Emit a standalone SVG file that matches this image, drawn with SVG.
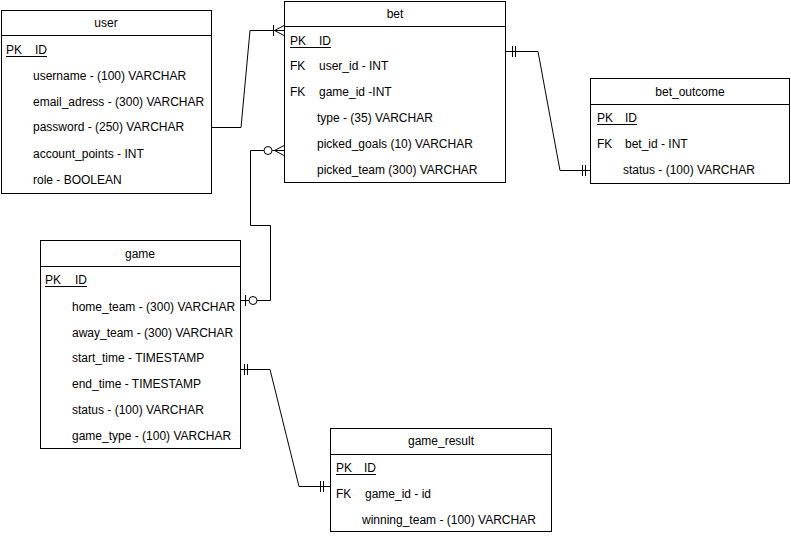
<svg xmlns="http://www.w3.org/2000/svg" width="791" height="536" viewBox="0 0 791 536">
  <style>
    .box { fill: #ffffff; stroke: #000000; stroke-width: 1; }
    .sep { stroke: #000000; stroke-width: 1; }
    .t { font-family: "Liberation Sans", Arial, Helvetica, sans-serif; font-size: 12px; fill: #000000; }
    .title { text-anchor: middle; }
    .ul { stroke: #000000; stroke-width: 1; }
    .edge { fill: none; stroke: #000000; stroke-width: 1; }
    .ring { fill: #ffffff; stroke: #000000; stroke-width: 1; }
  </style>
  <rect width="791" height="536" fill="#ffffff"/>

  <!-- relationships -->
  <g id="connectors">
    <!-- user 1..N bet -->
    <path class="edge" d="M211 127.5 H241 L250 30.5 H284"/>
    <path class="edge" d="M273.5 25 V36 M274.5 30.5 L284 25.5 M274.5 30.5 L284 35.5"/>

    <!-- game 0..1 to 0..N bet -->
    <path class="edge" d="M241 300.5 H270.5 V225.5 H250.5 V150.5 H284"/>
    <path class="edge" d="M245.5 295 V306"/>
    <circle class="ring" cx="253" cy="300.5" r="4"/>
    <circle class="ring" cx="268" cy="150.5" r="4"/>
    <path class="edge" d="M274.5 150.5 L284 145.5 M274.5 150.5 L284 155.5"/>

    <!-- bet 1..1 bet_outcome -->
    <path class="edge" d="M505 51.5 H538 L560 170.5 H590"/>
    <path class="edge" d="M512.5 46 V57 M515.5 46 V57"/>
    <path class="edge" d="M582.5 165 V176 M585.5 165 V176"/>

    <!-- game 1..1 game_result -->
    <path class="edge" d="M241 369.5 H270 L299 486.5 H330"/>
    <path class="edge" d="M244.5 364 V375 M247.5 364 V375"/>
    <path class="edge" d="M320.5 481 V492 M323.5 481 V492"/>
  </g>

  <!-- user table -->
  <g id="user">
    <rect class="box" x="1.5" y="10.5" width="210" height="183"/>
    <line class="sep" x1="1.5" y1="35.5" x2="211.5" y2="35.5"/>
    <text class="t title" x="106" y="27">user</text>
    <text class="t" x="6" y="54">PK</text>
    <text class="t" x="35" y="54">ID</text>
    <line class="ul" x1="6" y1="56.5" x2="47" y2="56.5"/>
    <text class="t" x="33" y="80">username - (100) VARCHAR</text>
    <text class="t" x="33" y="106">email_adress - (300) VARCHAR</text>
    <text class="t" x="33" y="131">password - (250) VARCHAR</text>
    <text class="t" x="33" y="158">account_points - INT</text>
    <text class="t" x="33" y="184">role - BOOLEAN</text>
  </g>

  <!-- bet table -->
  <g id="bet">
    <rect class="box" x="284.5" y="1.5" width="221" height="181"/>
    <line class="sep" x1="284.5" y1="26.5" x2="505.5" y2="26.5"/>
    <text class="t title" x="395" y="18">bet</text>
    <text class="t" x="290" y="45">PK</text>
    <text class="t" x="319" y="45">ID</text>
    <line class="ul" x1="290" y1="47.5" x2="331" y2="47.5"/>
    <text class="t" x="290" y="70">FK</text>
    <text class="t" x="319" y="70">user_id - INT</text>
    <text class="t" x="290" y="96">FK</text>
    <text class="t" x="319" y="96">game_id -INT</text>
    <text class="t" x="317" y="122">type - (35) VARCHAR</text>
    <text class="t" x="317" y="148">picked_goals (10) VARCHAR</text>
    <text class="t" x="317" y="174">picked_team (300) VARCHAR</text>
  </g>

  <!-- bet_outcome table -->
  <g id="bet_outcome">
    <rect class="box" x="590.5" y="78.5" width="199" height="105"/>
    <line class="sep" x1="590.5" y1="104.5" x2="789.5" y2="104.5"/>
    <text class="t title" x="690" y="96">bet_outcome</text>
    <text class="t" x="597" y="122">PK</text>
    <text class="t" x="625" y="122">ID</text>
    <line class="ul" x1="597" y1="124.5" x2="637" y2="124.5"/>
    <text class="t" x="597" y="148">FK</text>
    <text class="t" x="625" y="148">bet_id - INT</text>
    <text class="t" x="623" y="174">status - (100) VARCHAR</text>
  </g>

  <!-- game table -->
  <g id="game">
    <rect class="box" x="40.5" y="240.5" width="200" height="208"/>
    <line class="sep" x1="40.5" y1="266.5" x2="240.5" y2="266.5"/>
    <text class="t title" x="140" y="258">game</text>
    <text class="t" x="45" y="284">PK</text>
    <text class="t" x="75" y="284">ID</text>
    <line class="ul" x1="45" y1="286.5" x2="87" y2="286.5"/>
    <text class="t" x="72" y="311">home_team - (300) VARCHAR</text>
    <text class="t" x="72" y="337">away_team - (300) VARCHAR</text>
    <text class="t" x="72" y="362">start_time - TIMESTAMP</text>
    <text class="t" x="72" y="388">end_time - TIMESTAMP</text>
    <text class="t" x="72" y="414">status - (100) VARCHAR</text>
    <text class="t" x="72" y="440">game_type - (100) VARCHAR</text>
  </g>

  <!-- game_result table -->
  <g id="game_result">
    <rect class="box" x="330.5" y="428.5" width="221" height="103"/>
    <line class="sep" x1="330.5" y1="454.5" x2="551.5" y2="454.5"/>
    <text class="t title" x="441" y="445">game_result</text>
    <text class="t" x="336" y="472">PK</text>
    <text class="t" x="364" y="472">ID</text>
    <line class="ul" x1="336" y1="474.5" x2="376" y2="474.5"/>
    <text class="t" x="336" y="498">FK</text>
    <text class="t" x="365" y="498">game_id - id</text>
    <text class="t" x="362" y="524">winning_team - (100) VARCHAR</text>
  </g>
</svg>
